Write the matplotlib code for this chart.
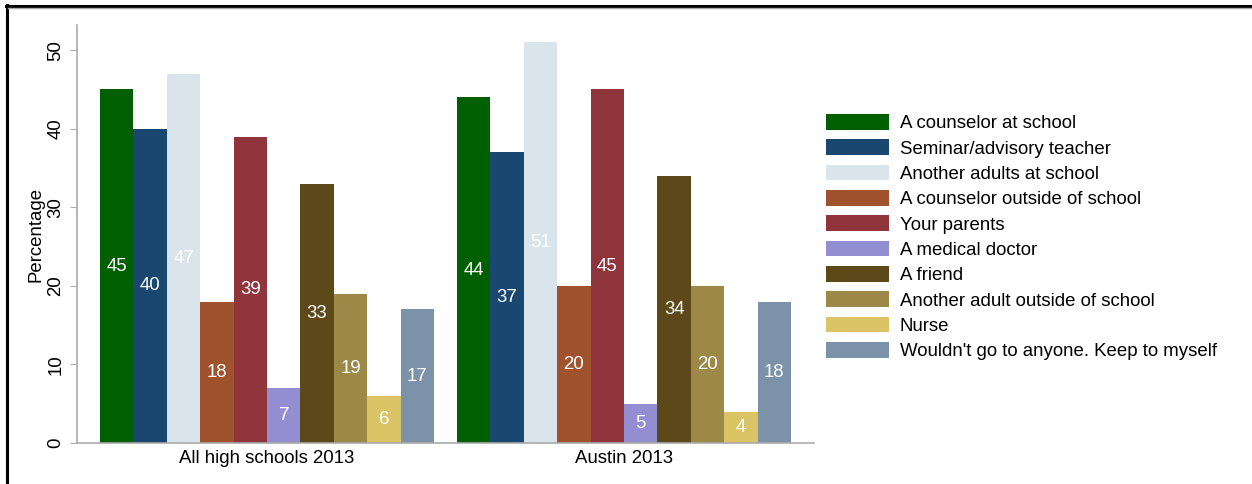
import matplotlib.pyplot as plt
from matplotlib.lines import Line2D

plt.rcParams['font.family'] = ['Liberation Sans', 'DejaVu Sans']

groups = ['All high schools 2013', 'Austin 2013']
categories = ['A counselor at school', 'Seminar/advisory teacher', 'Another adults at school',
              'A counselor outside of school', 'Your parents', 'A medical doctor', 'A friend',
              'Another adult outside of school', 'Nurse', "Wouldn't go to anyone. Keep to myself"]
all_schools = [45, 40, 47, 18, 39, 7, 33, 19, 6, 17]
austin = [44, 37, 51, 20, 45, 5, 34, 20, 4, 18]
colors = ['#005f00', '#1a476f', '#d9e5eb', '#a0522d', '#90353b', '#938dd2',
          '#5c4818', '#9c8847', '#dac466', '#7b92a8']

series = [all_schools, austin]
gap = 0.69
group_step = len(categories) + gap
fs = 13.4

fig = plt.figure(figsize=(12.52, 4.84), dpi=100)
ax = fig.add_axes([77 / 1252, 41 / 484, 737 / 1252, 418 / 484])

bars_for_legend = []
for j, cat in enumerate(categories):
    xs = [g * group_step + j + 0.5 for g in range(len(groups))]
    vals = [s[j] for s in series]
    b = ax.bar(xs, vals, width=1.0, color=colors[j], label=cat, linewidth=0)
    bars_for_legend.append(b)
    for x, v in zip(xs, vals):
        ax.text(x, v / 2, str(v), ha='center', va='center', color='white', fontsize=fs)

ax.set_xlim(-gap, len(groups) * group_step)
ax.set_ylim(0, 53.2)
ax.set_xticks([g * group_step + len(categories) / 2 for g in range(len(groups))])
ax.set_xticklabels(groups, fontsize=fs)
ax.tick_params(axis='x', length=0, pad=5)
ax.set_yticks([0, 10, 20, 30, 40, 50])
ax.set_yticklabels(['0', '10', '20', '30', '40', '50'], rotation=90, va='center', fontsize=fs)
ax.tick_params(axis='y', length=5, color='#aaaaaa', pad=4)
ax.set_ylabel('Percentage', fontsize=fs, labelpad=2)

for side in ['top', 'right']:
    ax.spines[side].set_visible(False)
for side in ['left', 'bottom']:
    ax.spines[side].set_color('#aaaaaa')
    ax.spines[side].set_linewidth(1.2)

fig.legend(handles=bars_for_legend, labels=categories, loc='upper left',
           bbox_to_anchor=(826 / 1252, 1 - 114 / 484), frameon=False, fontsize=fs,
           handlelength=3.4, handleheight=0.92, handletextpad=0.55, labelspacing=0.38,
           borderaxespad=0, borderpad=0)

# frame lines of the surrounding graph region
fig.add_artist(Line2D([6 / 1252, 1], [1 - 5.5 / 484, 1 - 5.5 / 484], color='black', lw=2.2,
                      transform=fig.transFigure))
fig.add_artist(Line2D([6.5 / 1252, 6.5 / 1252], [0, 1 - 5 / 484], color='black', lw=2.2,
                      transform=fig.transFigure))
fig.add_artist(Line2D([8 / 1252, 1], [1 - 8 / 484, 1 - 8 / 484], color='#aaaaaa', lw=1,
                      transform=fig.transFigure))

fig.savefig('out.png', dpi=100)
